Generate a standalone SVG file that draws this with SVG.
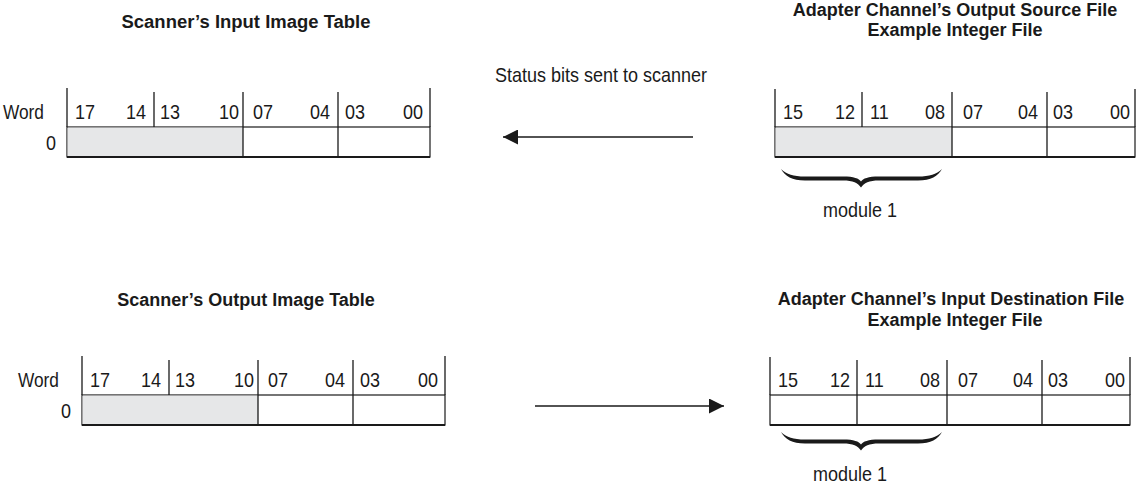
<svg xmlns="http://www.w3.org/2000/svg" width="1139" height="487" viewBox="0 0 1139 487">
<style>
text{font-family:"Liberation Sans",Arial,sans-serif;font-size:20px;fill:#1a1a1a}
.t{font-weight:bold;text-anchor:middle;font-size:18px}
.e{text-anchor:end}
.tk{stroke:#1a1a1a;stroke-width:1.3}
.box{fill:#fff;stroke:#1a1a1a;stroke-width:1.2}
.gr{fill:#e6e7e8}
.bl{stroke:#1a1a1a;stroke-width:2}
.br{fill:#1a1a1a}
.con{stroke:#1a1a1a;stroke-width:1.4;fill:none}
</style>
<defs>
<marker id="ah" viewBox="0 0 15 15" refX="15" refY="7.5" markerWidth="15" markerHeight="15" markerUnits="userSpaceOnUse" orient="auto">
<path d="M0,0 L15,7.5 L0,15 Z" fill="#1a1a1a"/>
</marker>
<path id="brace" d="M781,169 C785,176 792,180.5 805,180.5 L843,180.5 C853,180.5 858,183 861,187.5 C864,183 869,180.5 879,180.5 L918,180.5 C931,180.5 938,176 942,169 C936,174.5 930,176.5 918,176.5 L879,176.5 C868,176.5 863,178.5 861,181.5 C859,178.5 854,176.5 843,176.5 L805,176.5 C793,176.5 787,174.5 781,169 Z"/>
</defs>

<g id="scanner-input-table">
<text class="t" x="246" y="28" textLength="249" lengthAdjust="spacingAndGlyphs">Scanner’s Input Image Table</text>
<rect class="box" x="67" y="127" width="363" height="30"/>
<rect class="gr" x="67.6" y="127.6" width="175.4" height="29"/>
<line class="tk" x1="243" y1="127" x2="243" y2="157"/>
<line class="tk" x1="338" y1="127" x2="338" y2="157"/>
<line class="bl" x1="67" y1="157" x2="430" y2="157"/>
<line class="tk" x1="67" y1="88" x2="67" y2="127"/>
<line class="tk" x1="154" y1="92" x2="154" y2="127"/>
<line class="tk" x1="243" y1="92" x2="243" y2="127"/>
<line class="tk" x1="338" y1="92" x2="338" y2="127"/>
<line class="tk" x1="430" y1="88" x2="430" y2="127"/>
<g transform="scale(0.9 1)">
<text x="3.3" y="119" textLength="45.5" lengthAdjust="spacingAndGlyphs">Word</text>
<text class="e" x="62.2" y="150">0</text>
<text x="83.3" y="119">17</text>
<text class="e" x="162.2" y="119">14</text>
<text x="177.8" y="119">13</text>
<text class="e" x="265.6" y="119">10</text>
<text x="281.1" y="119">07</text>
<text class="e" x="366.7" y="119">04</text>
<text x="383.3" y="119">03</text>
<text class="e" x="470" y="119">00</text>
</g>
</g>

<g id="adapter-output-source">
<text class="t" x="955" y="16">Adapter Channel’s Output Source File</text>
<text class="t" x="955" y="36">Example Integer File</text>
<rect class="box" x="775" y="127" width="360" height="30"/>
<rect class="gr" x="775.6" y="127.6" width="176.4" height="29"/>
<line class="tk" x1="952" y1="127" x2="952" y2="157"/>
<line class="tk" x1="1047" y1="127" x2="1047" y2="157"/>
<line class="bl" x1="775" y1="157" x2="1135" y2="157"/>
<line class="tk" x1="775" y1="89" x2="775" y2="127"/>
<line class="tk" x1="862" y1="92" x2="862" y2="127"/>
<line class="tk" x1="952" y1="92" x2="952" y2="127"/>
<line class="tk" x1="1047" y1="92" x2="1047" y2="127"/>
<line class="tk" x1="1135" y1="89" x2="1135" y2="127"/>
<g transform="scale(0.9 1)">
<text x="870" y="119">15</text>
<text class="e" x="950" y="119">12</text>
<text x="966.7" y="119">11</text>
<text class="e" x="1050" y="119">08</text>
<text x="1070" y="119">07</text>
<text class="e" x="1153.3" y="119">04</text>
<text x="1170" y="119">03</text>
<text class="e" x="1255.6" y="119">00</text>
</g>
</g>

<g id="module1-top">
<use href="#brace" class="br"/>
<text x="914.4" y="217" transform="scale(0.9 1)">module 1</text>
</g>

<g id="status-label">
<text x="550" y="82" transform="scale(0.9 1)">Status bits sent to scanner</text>
</g>

<g id="scanner-output-table">
<text class="t" x="246" y="306">Scanner’s Output Image Table</text>
<rect class="box" x="82" y="395" width="363" height="30"/>
<rect class="gr" x="82.6" y="395.6" width="175.4" height="29"/>
<line class="tk" x1="258" y1="395" x2="258" y2="425"/>
<line class="tk" x1="353" y1="395" x2="353" y2="425"/>
<line class="bl" x1="82" y1="425" x2="445" y2="425"/>
<line class="tk" x1="82" y1="356" x2="82" y2="395"/>
<line class="tk" x1="169" y1="360" x2="169" y2="395"/>
<line class="tk" x1="258" y1="360" x2="258" y2="395"/>
<line class="tk" x1="353" y1="360" x2="353" y2="395"/>
<line class="tk" x1="445" y1="356" x2="445" y2="395"/>
<g transform="scale(0.9 1)">
<text x="20" y="387" textLength="45.5" lengthAdjust="spacingAndGlyphs">Word</text>
<text class="e" x="78.9" y="418">0</text>
<text x="100" y="387">17</text>
<text class="e" x="178.9" y="387">14</text>
<text x="194.4" y="387">13</text>
<text class="e" x="282.2" y="387">10</text>
<text x="297.8" y="387">07</text>
<text class="e" x="383.3" y="387">04</text>
<text x="400" y="387">03</text>
<text class="e" x="486.7" y="387">00</text>
</g>
</g>

<g id="adapter-input-destination">
<text class="t" x="951" y="305">Adapter Channel’s Input Destination File</text>
<text class="t" x="955" y="326">Example Integer File</text>
<rect class="box" x="770" y="395" width="360" height="30"/>
<line class="tk" x1="857" y1="395" x2="857" y2="425"/>
<line class="tk" x1="947" y1="395" x2="947" y2="425"/>
<line class="tk" x1="1042" y1="395" x2="1042" y2="425"/>
<line class="bl" x1="770" y1="425" x2="1130" y2="425"/>
<line class="tk" x1="770" y1="357" x2="770" y2="395"/>
<line class="tk" x1="857" y1="360" x2="857" y2="395"/>
<line class="tk" x1="947" y1="360" x2="947" y2="395"/>
<line class="tk" x1="1042" y1="360" x2="1042" y2="395"/>
<line class="tk" x1="1130" y1="357" x2="1130" y2="395"/>
<g transform="scale(0.9 1)">
<text x="864.4" y="387">15</text>
<text class="e" x="944.4" y="387">12</text>
<text x="961.1" y="387">11</text>
<text class="e" x="1044.4" y="387">08</text>
<text x="1064.4" y="387">07</text>
<text class="e" x="1147.8" y="387">04</text>
<text x="1164.4" y="387">03</text>
<text class="e" x="1250" y="387">00</text>
</g>
</g>

<g id="module1-bottom">
<use href="#brace" class="br" transform="translate(0,263)"/>
<text x="903.3" y="481" transform="scale(0.9 1)">module 1</text>
</g>

<g id="connectors">
<line class="con" x1="693" y1="137" x2="503" y2="137" marker-end="url(#ah)"/>
<line class="con" x1="535" y1="406" x2="724" y2="406" marker-end="url(#ah)"/>
</g>
</svg>
